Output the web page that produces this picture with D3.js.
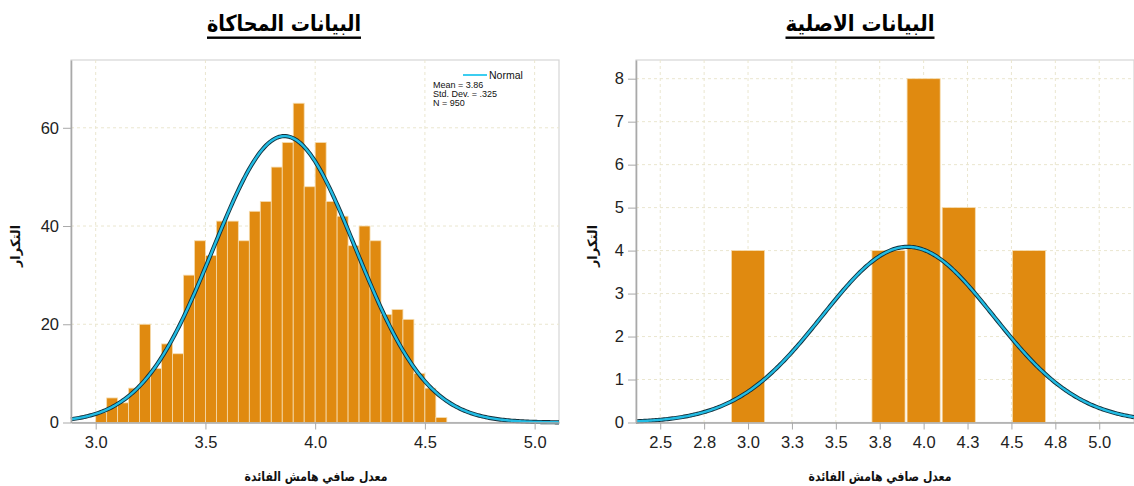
<!DOCTYPE html>
<html>
<head>
<meta charset="utf-8">
<script src="https://cdn.jsdelivr.net/npm/d3@7"></script>
<style>
  html, body { margin: 0; padding: 0; background: #fff; }
  svg { display: block; }
  .arabic { font-family: "DejaVu Sans", sans-serif; font-weight: bold; }
</style>
</head>
<body>
<svg id="chart" width="1134" height="486"></svg>
<script>
// ---- Simulated data histogram (bins of 0.05 starting at 3.00) ----
const simBinStart = 3.0;
const simBinWidth = 0.05;
const simCounts = [2, 5, 4, 7, 20, 11, 16, 14, 30, 37, 34, 41, 41, 37, 43, 45,
                   52, 57, 65, 48, 57, 45, 42, 36, 40, 37, 22, 23, 21, 10, 7, 1];
const simMean = 3.86;
const simSD = 0.325;
const simN = 950;
const simXTicks = [3.0, 3.5, 4.0, 4.5, 5.0];
const simYTicks = [0, 20, 40, 60];

// ---- Original data histogram (bins of 0.2) ----
const origBinLower = [2.9, 3.7, 3.9, 4.1, 4.5];
const origBinWidth = 0.2;
const origCounts = [4, 4, 8, 5, 4];
const origMean = 3.91;
const origSD = 0.488;
const origN = 25;
const origXTicks = [2.5, 2.75, 3.0, 3.25, 3.5, 3.75, 4.0, 4.25, 4.5, 4.75, 5.0];
const origXLabels = ["2.5", "2.8", "3.0", "3.3", "3.5", "3.8", "4.0", "4.3", "4.5", "4.8", "5.0"];
const origYTicks = [0, 1, 2, 3, 4, 5, 6, 7, 8];

const titleSim = "البيانات المحاكاة";
const titleOrig = "البيانات الاصلية";
const xTitle = "معدل صافي هامش الفائدة";
const yTitle = "التكرار";

const barColor = "#E08A10";
const barEdge = "#F6DDB0";
const gridColor = "#EAE6CF";
const axisColor = "#A9A9A9";
const curveDark = "#12303C";
const curveCyan = "#22BCE4";
const tickFont = "Liberation Sans, Arial, sans-serif";

const svg = d3.select("#chart");

function normalCurve(mean, sd, n, binW, domain) {
  const pts = [];
  const steps = 300;
  for (let i = 0; i <= steps; i++) {
    const v = domain[0] + (domain[1] - domain[0]) * i / steps;
    const z = (v - mean) / sd;
    pts.push([v, n * binW / (sd * Math.sqrt(2 * Math.PI)) * Math.exp(-0.5 * z * z)]);
  }
  return pts;
}

function drawPanel(cfg) {
  const g = svg.append("g");
  const x = d3.scaleLinear().domain(cfg.xDomain).range([cfg.left, cfg.right]);
  const y = d3.scaleLinear().domain(cfg.yDomain).range([cfg.bottom, cfg.top]);

  // frame
  g.append("rect")
    .attr("x", cfg.left).attr("y", cfg.top)
    .attr("width", cfg.right - cfg.left).attr("height", cfg.bottom - cfg.top)
    .attr("fill", "#fff").attr("stroke", "#D6D6D6").attr("stroke-width", 1.2);

  // grid
  g.append("g").selectAll("line").data(cfg.xTicks).join("line")
    .attr("x1", d => x(d)).attr("x2", d => x(d))
    .attr("y1", cfg.top).attr("y2", cfg.bottom)
    .attr("stroke", gridColor).attr("stroke-dasharray", "3,3");
  g.append("g").selectAll("line").data(cfg.yTicks.filter(d => d > 0)).join("line")
    .attr("x1", cfg.left).attr("x2", cfg.right)
    .attr("y1", d => y(d)).attr("y2", d => y(d))
    .attr("stroke", gridColor).attr("stroke-dasharray", "3,3");

  // bars
  g.append("g").selectAll("rect").data(cfg.bars).join("rect")
    .attr("x", d => x(d.x0) + cfg.inset)
    .attr("width", d => Math.max(0, x(d.x1) - x(d.x0) - 2 * cfg.inset))
    .attr("y", d => y(d.count))
    .attr("height", d => y(0) - y(d.count))
    .attr("fill", barColor)
    .attr("stroke", barEdge).attr("stroke-width", 0.8);

  // normal curve
  const line = d3.line().x(d => x(d[0])).y(d => y(d[1]));
  const pts = normalCurve(cfg.mean, cfg.sd, cfg.n, cfg.binW, cfg.xDomain);
  g.append("path").attr("d", line(pts)).attr("fill", "none")
    .attr("stroke", curveDark).attr("stroke-width", 4.2);
  g.append("path").attr("d", line(pts)).attr("fill", "none")
    .attr("stroke", curveCyan).attr("stroke-width", 2.4);

  // axes
  const xa = d3.axisBottom(x).tickValues(cfg.xTicks).tickFormat(cfg.xFormat)
    .tickSize(7).tickPadding(7).tickSizeOuter(0);
  const xg = g.append("g").attr("transform", `translate(0,${cfg.bottom})`).call(xa);
  xg.select(".domain").attr("stroke", axisColor).attr("stroke-width", 1.6);
  xg.selectAll(".tick line").attr("stroke", axisColor);
  xg.selectAll(".tick text").attr("font-family", tickFont).attr("font-size", 16.5).attr("fill", "#222");

  const ya = d3.axisLeft(y).tickValues(cfg.yTicks).tickSize(8).tickPadding(4).tickSizeOuter(0);
  const yg = g.append("g").attr("transform", `translate(${cfg.left},0)`).call(ya);
  yg.select(".domain").attr("stroke", axisColor).attr("stroke-width", 1.6);
  yg.selectAll(".tick line").attr("stroke", axisColor);
  yg.selectAll(".tick text").attr("font-family", tickFont).attr("font-size", 16.5).attr("fill", "#222");

  // axis titles
  g.append("text").attr("class", "arabic")
    .attr("x", (cfg.left + cfg.right) / 2 + cfg.xTitleShift).attr("y", 481)
    .attr("text-anchor", "middle").attr("font-size", 13).attr("fill", "#111")
    .attr("textLength", 143).attr("lengthAdjust", "spacingAndGlyphs")
    .text(xTitle);
  g.append("text").attr("class", "arabic")
    .attr("transform", `translate(${cfg.yTitleX},246) rotate(-90)`)
    .attr("text-anchor", "middle").attr("font-size", 13).attr("fill", "#111")
    .text(yTitle);

  // panel title with underline
  svg.append("text").attr("class", "arabic")
    .attr("x", cfg.titleX).attr("y", 31)
    .attr("text-anchor", "middle").attr("font-size", 22).attr("fill", "#000")
    .attr("textLength", cfg.titleW).attr("lengthAdjust", "spacingAndGlyphs")
    .text(cfg.title);
  svg.append("rect")
    .attr("x", cfg.titleX - cfg.titleW / 2).attr("y", 36.5)
    .attr("width", cfg.titleW).attr("height", 2.4).attr("fill", "#000");

  return { g, x, y };
}

const simBars = simCounts.map((c, i) => ({
  x0: simBinStart + i * simBinWidth,
  x1: simBinStart + (i + 1) * simBinWidth,
  count: c
}));
const origBars = origCounts.map((c, i) => ({
  x0: origBinLower[i], x1: origBinLower[i] + origBinWidth, count: c
}));

const left = drawPanel({
  left: 71, right: 559, top: 60, bottom: 422.5,
  xDomain: [2.8875, 5.111], yDomain: [0, 73.8],
  xTicks: simXTicks, yTicks: simYTicks, xFormat: d3.format(".1f"),
  bars: simBars, inset: 0,
  mean: simMean, sd: simSD, n: simN, binW: simBinWidth,
  title: titleSim, titleX: 284, titleW: 154, xTitleShift: 1, yTitleX: 20
});

const right = drawPanel({
  left: 636, right: 1134, top: 60, bottom: 422.5,
  xDomain: [2.362, 5.198], yDomain: [0, 8.435],
  xTicks: origXTicks, yTicks: origYTicks,
  xFormat: (d, i) => origXLabels[i],
  bars: origBars, inset: 1,
  mean: origMean, sd: origSD, n: origN, binW: origBinWidth,
  title: titleOrig, titleX: 860, titleW: 149, xTitleShift: -5, yTitleX: 597
});

// legend / statistics box in the simulated panel
const lg = left.g.append("g");
lg.append("line").attr("x1", 463).attr("x2", 487).attr("y1", 75).attr("y2", 75)
  .attr("stroke", "#3CCDF0").attr("stroke-width", 2);
lg.append("text").attr("x", 489).attr("y", 79)
  .attr("font-family", tickFont).attr("font-size", 10.5)
  .attr("fill", "#111").text("Normal");
const statLines = [`Mean = ${simMean.toFixed(2)}`, "Std. Dev. = .325", `N = ${simN}`];
lg.selectAll("text.stat").data(statLines).join("text")
  .attr("class", "stat")
  .attr("x", 433).attr("y", (d, i) => 87.5 + i * 9.2)
  .attr("font-family", tickFont).attr("font-size", 9)
  .attr("fill", "#111").text(d => d);
</script>
</body>
</html>
